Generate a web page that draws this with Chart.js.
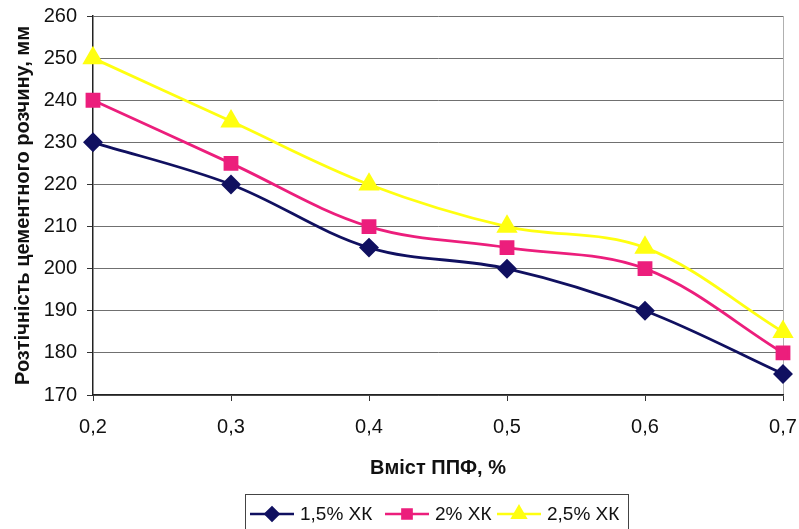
<!DOCTYPE html>
<html>
<head>
<meta charset="utf-8">
<script src="https://cdn.jsdelivr.net/npm/chart.js@4/dist/chart.umd.min.js"></script>
<style>
  html, body { margin: 0; padding: 0; background: #ffffff; }
  #wrap { width: 799px; height: 529px; }
</style>
</head>
<body>
<div id="wrap"><canvas id="c" width="799" height="529"></canvas></div>
<script>
// Вміст ППФ, %
const fiberContent = [0.2, 0.3, 0.4, 0.5, 0.6, 0.7];
// Розтічність, мм, for each ХК dosage
const flow15 = [230, 220, 205, 200, 190, 175];
const flow20 = [240, 225, 210, 205, 200, 180];
const flow25 = [250, 235, 220, 210, 205, 185];
const seriesNames = ['1,5% ХК', '2% ХК', '2,5% ХК'];

const FONT = '"Liberation Sans", Arial, sans-serif';

function pts(vals) { return fiberContent.map((x, i) => ({ x, y: vals[i] })); }

// Legend in a framed box, each entry a short line with its marker
const boxLegend = {
  id: 'boxLegend',
  afterDraw(chart) {
    const ctx = chart.ctx;
    const bx = 245, by = 494, bw = 383, bh = 40;
    ctx.save();
    ctx.strokeStyle = '#444';
    ctx.lineWidth = 1;
    ctx.strokeRect(bx + 0.5, by + 0.5, bw, bh);
    const starts = [250, 385, 497];
    const sizes = [6.5, 6.5, 7.5];
    const cy = 514;
    ctx.font = '19px ' + FONT;
    ctx.textBaseline = 'middle';
    chart.data.datasets.forEach((ds, i) => {
      const x0 = starts[i], x1 = x0 + 44;
      ctx.strokeStyle = ds.borderColor;
      ctx.lineWidth = 2.5;
      ctx.beginPath();
      ctx.moveTo(x0, cy);
      ctx.lineTo(x1, cy);
      ctx.stroke();
      ctx.save();
      ctx.fillStyle = ds.pointBackgroundColor;
      ctx.strokeStyle = ds.pointBorderColor;
      Chart.helpers.drawPoint(ctx, {
        pointStyle: ds.pointStyle, rotation: 0, borderWidth: 1, radius: sizes[i]
      }, (x0 + x1) / 2, cy);
      ctx.restore();
      ctx.fillStyle = '#111';
      ctx.fillText(ds.label, x1 + 6, cy + 1);
    });
    ctx.restore();
  }
};

new Chart(document.getElementById('c'), {
  type: 'line',
  data: {
    datasets: [
      {
        label: seriesNames[0], data: pts(flow15),
        borderColor: '#101060', backgroundColor: '#101060',
        pointBackgroundColor: '#101060', pointBorderColor: '#101060',
        pointStyle: 'rectRot', pointRadius: 8, borderWidth: 2.8, tension: 0.35
      },
      {
        label: seriesNames[1], data: pts(flow20),
        borderColor: '#ec1e7c', backgroundColor: '#ec1e7c',
        pointBackgroundColor: '#ec1e7c', pointBorderColor: '#ec1e7c',
        pointStyle: 'rect', pointRadius: 8.5, borderWidth: 2.8, tension: 0.35
      },
      {
        label: seriesNames[2], data: pts(flow25),
        borderColor: '#ffff10', backgroundColor: '#ffff10',
        pointBackgroundColor: '#ffff10', pointBorderColor: '#ffff10',
        pointStyle: 'triangle', pointRadius: 9.5, borderWidth: 2.8, tension: 0.35
      }
    ]
  },
  options: {
    responsive: false,
    animation: false,
    clip: false,
    layout: { padding: { left: 0, right: 16, top: 16, bottom: 47 } },
    plugins: {
      legend: { display: false },
      tooltip: { enabled: false }
    },
    scales: {
      x: {
        type: 'linear', min: 0.2, max: 0.7,
        afterFit(s) { s.height = 87; s.paddingLeft = 0; s.paddingRight = 0; },
        ticks: {
          stepSize: 0.1, padding: 14, color: '#111',
          font: { family: FONT, size: 20 },
          callback: v => v.toFixed(1).replace('.', ',')
        },
        grid: {
          color: c => (c.tick && Math.abs(c.tick.value - 0.7) < 1e-6) ? '#b0b0b0' : 'rgba(0,0,0,0)',
          tickColor: '#333', tickLength: 6, lineWidth: 1
        },
        border: { color: '#222', width: 1.5 },
        title: {
          display: true, text: 'Вміст ППФ, %', color: '#111',
          font: { family: FONT, size: 20, weight: 'bold' },
          padding: { top: 4, bottom: 2 }
        }
      },
      y: {
        min: 170, max: 260,
        afterFit(s) { s.width = 93; s.paddingTop = 0; s.paddingBottom = 0; },
        ticks: {
          stepSize: 10, padding: 10, color: '#111',
          font: { family: FONT, size: 20 }
        },
        grid: { color: '#707070', tickColor: '#333', tickLength: 6, lineWidth: 1 },
        border: { color: '#222', width: 1.5 },
        title: {
          display: true, text: 'Розтічність цементного розчину, мм', color: '#111',
          font: { family: FONT, size: 20, weight: 'bold' },
          padding: { top: 11, bottom: 4 }
        }
      }
    }
  },
  plugins: [boxLegend]
});
</script>
</body>
</html>
